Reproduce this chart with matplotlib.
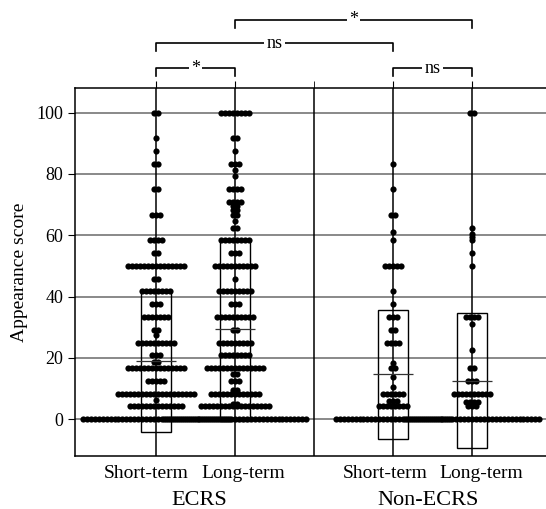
import matplotlib
matplotlib.use("Agg")
import matplotlib.pyplot as plt
from matplotlib.patches import Rectangle
from matplotlib.transforms import ScaledTranslation
import numpy as np

plt.rcParams['font.family'] = ['Liberation Serif', 'DejaVu Serif']

# score -> number of patients
st_ecrs = {100: 2, 91.67: 1, 87.5: 1, 83.33: 2, 75: 2, 66.67: 3, 58.33: 4, 54.17: 2,
           50: 15, 45.83: 2, 41.67: 8, 37.5: 3, 33.33: 7, 29.17: 2, 27.5: 1, 25: 10,
           20.83: 3, 18.75: 2, 16.67: 15, 12.5: 5, 8.33: 20, 6.25: 1, 4.17: 14, 0: 38}
lt_ecrs = {100: 8, 91.67: 2, 87.5: 1, 83.33: 3, 81.25: 1, 79.17: 1, 75: 4, 70.83: 4,
           69.44: 2, 68.06: 2, 66.67: 2, 64.58: 1, 62.5: 2, 58.33: 8, 54.17: 3, 50: 11,
           45.83: 1, 41.67: 9, 37.5: 3, 33.33: 10, 29.17: 2, 25: 9, 20.83: 8, 16.67: 15,
           14.58: 2, 12.5: 3, 9.5: 2, 8.33: 13, 5: 2, 4.17: 18, 0: 37}
st_non = {83.33: 1, 75: 1, 66.67: 2, 61.11: 1, 58.33: 1, 50: 5, 41.67: 1, 37.5: 1,
          33.33: 3, 29.17: 2, 25: 4, 18.33: 1, 16.67: 2, 13.89: 1, 10.5: 1, 8.33: 6,
          6: 3, 4.17: 8, 0: 30}
lt_non = {100: 2, 62.5: 1, 60.4: 1, 59.4: 1, 58.33: 1, 54.17: 1, 50: 1, 33.33: 4,
          30.9: 1, 22.5: 1, 16.67: 2, 12.5: 3, 8.33: 10, 5.5: 4, 4.17: 3, 0: 35}

groups = [st_ecrs, lt_ecrs, st_non, lt_non]
positions = [0, 1, 3, 4]
tick_labels = ['Short-term', 'Long-term', 'Short-term', 'Long-term']
# box = (lower, upper, mean) as drawn
box_low = [-4.2, -0.5, -6.5, -9.5]
box_high = [41.4, 58.6, 35.5, 34.6]
box_mean = [18.9, 29.3, 14.7, 12.5]

group_names = ['ECRS', 'Non-ECRS']
comparisons = [(0, 1, '*', 1.054), (3, 4, 'ns', 1.054),
               (0, 3, 'ns', 1.122), (1, 4, '*', 1.186)]

fig = plt.figure(figsize=(5.46, 5.09), dpi=100)
ax = fig.add_axes([0.1374, 0.1041, 0.872, 0.723])

ax.set_xlim(-1.025, 5)
ax.set_ylim(-12, 108)

for y in range(0, 101, 20):
    ax.axhline(y, color='#808080', lw=1.3, zorder=1)
for x in [0, 1, 2, 3, 4]:
    ax.axvline(x, color='black', lw=1.1, zorder=1)

step = 0.05
for pos, grp in zip(positions, groups):
    xs, ys = [], []
    for val, n in grp.items():
        offs = (np.arange(n) - (n - 1) / 2) * step
        xs.extend(pos + offs)
        ys.extend([val] * n)
    ax.scatter(xs, ys, s=20, color='black', linewidths=0, zorder=3)

for pos, lo, hi, m in zip(positions, box_low, box_high, box_mean):
    ax.add_patch(Rectangle((pos - 0.185, lo), 0.37, hi - lo, fill=False,
                           edgecolor='black', lw=1.0, zorder=2))
    ax.hlines(m, pos - 0.25, pos + 0.25, color='#333333', lw=0.9, zorder=4)

ax.set_xticks(positions)
ax.set_xticklabels(tick_labels, fontsize=14)
ax.set_xticks([2], minor=True)
ax.tick_params(axis='x', which='both', bottom=False, top=True, direction='out',
               length=5, pad=1.5)
# short/long labels sit a little apart from their lines
for lab, dx in zip(ax.get_xticklabels(), [-0.1, 0.085, -0.08, 0.09]):
    lab.set_transform(lab.get_transform() + ScaledTranslation(dx, 0, fig.dpi_scale_trans))
ax.set_yticks(range(0, 101, 20))
ax.tick_params(axis='y', labelsize=13, direction='out', length=5)
ax.set_ylabel('Appearance score', fontsize=14, labelpad=6)

for sp in ax.spines.values():
    sp.set_linewidth(1.1)

# group captions under the tick labels
for name, xc in zip(group_names, [0.55, 3.44]):
    ax.text(xc, -0.12, name, transform=ax.get_xaxis_transform(),
            ha='center', va='center', fontsize=16)

# significance brackets
trans = ax.get_xaxis_transform()
for a, b, lab, yb in comparisons:
    ax.plot([a, a, b, b], [yb - 0.022, yb, yb, yb - 0.022], color='black', lw=1.2,
            transform=trans, clip_on=False)
    ax.text((a + b) / 2, yb, lab, transform=trans, ha='center', va='center',
            fontsize=13, clip_on=False,
            bbox=dict(facecolor='white', edgecolor='none', pad=1.5))

fig.savefig('out.png', dpi=100)
